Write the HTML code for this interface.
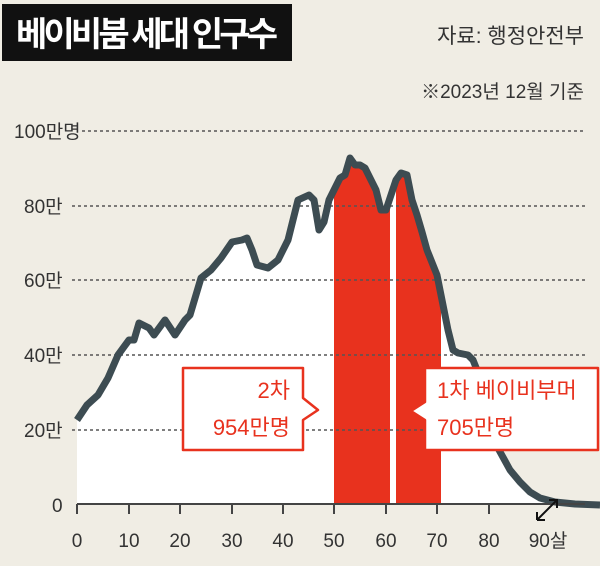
<!DOCTYPE html>
<html><head><meta charset="utf-8"><style>
body{margin:0;background:#f0ede4;}
svg text{font-family:"Liberation Sans","Noto Sans CJK KR",sans-serif;}
</style></head><body>
<svg width="600" height="561" viewBox="0 0 600 561" xmlns="http://www.w3.org/2000/svg">
<rect width="600" height="561" fill="#f0ede4"/>
<rect x="2" y="4" width="290" height="57" fill="#111"/>
<text x="16" y="46" font-size="34" fill="#fff" font-weight="bold" textLength="262">베이비붐 세대 인구수</text>
<text x="584" y="43" font-size="21" fill="#333" text-anchor="end">자료: 행정안전부</text>
<text x="584" y="98" font-size="19" fill="#333" text-anchor="end">※2023년 12월 기준</text>
<defs>
<clipPath id="c"><path id="cp" d="M77,420 L87,405 L98,395 L108,378 L118,355 L129,340 L134,340 L139,323 L149,328 L154,335 L165,320 L175,335 L185,320 L190,315 L201,278 L211,270 L221,258 L232,242 L242,240 L247,238 L252,250 L257,265 L268,268 L278,260 L288,240 L298,200 L309,195 L314,200 L319,230 L324,222 L329,200 L340,178 L345,175 L350,158 L355,165 L360,165 L365,168 L376,190 L381,210 L386,210 L391,195 L396,180 L401,173 L407,175 L412,200 L417,215 L422,232 L427,250 L437,275 L443,305 L448,330 L453,350 L458,353 L468,355 L473,360 L479,375 L489,420 L499,450 L510,470 L520,482 L530,492 L540,498 L555,502 L570,503 L570,504 L77,504 Z"/></clipPath>
</defs>
<path d="M77,420 L87,405 L98,395 L108,378 L118,355 L129,340 L134,340 L139,323 L149,328 L154,335 L165,320 L175,335 L185,320 L190,315 L201,278 L211,270 L221,258 L232,242 L242,240 L247,238 L252,250 L257,265 L268,268 L278,260 L288,240 L298,200 L309,195 L314,200 L319,230 L324,222 L329,200 L340,178 L345,175 L350,158 L355,165 L360,165 L365,168 L376,190 L381,210 L386,210 L391,195 L396,180 L401,173 L407,175 L412,200 L417,215 L422,232 L427,250 L437,275 L443,305 L448,330 L453,350 L458,353 L468,355 L473,360 L479,375 L489,420 L499,450 L510,470 L520,482 L530,492 L540,498 L555,502 L570,503 L570,504 L77,504 Z" fill="#fff"/>
<g clip-path="url(#c)" fill="#e8321e">
<rect x="334" y="100" width="56" height="404"/>
<rect x="396" y="100" width="45" height="404"/>
</g>
<g stroke="#555" stroke-width="1.5" stroke-dasharray="3,3">
<line x1="82" y1="131" x2="585" y2="131"/>
<line x1="72" y1="206" x2="585" y2="206"/>
<line x1="72" y1="280" x2="585" y2="280"/>
<line x1="72" y1="355" x2="585" y2="355"/>
<line x1="72" y1="430" x2="585" y2="430"/>
</g>
<path d="M77,420 L87,405 L98,395 L108,378 L118,355 L129,340 L134,340 L139,323 L149,328 L154,335 L165,320 L175,335 L185,320 L190,315 L201,278 L211,270 L221,258 L232,242 L242,240 L247,238 L252,250 L257,265 L268,268 L278,260 L288,240 L298,200 L309,195 L314,200 L319,230 L324,222 L329,200 L340,178 L345,175 L350,158 L355,165 L360,165 L365,168 L376,190 L381,210 L386,210 L391,195 L396,180 L401,173 L407,175 L412,200 L417,215 L422,232 L427,250 L437,275 L443,305 L448,330 L453,350 L458,353 L468,355 L473,360 L479,375 L489,420 L499,450 L510,470 L520,482 L530,492 L540,498 L555,502 L575,504 L600,505" fill="none" stroke="#3d4c52" stroke-width="7" stroke-linejoin="round"/>
<g font-size="19" fill="#333">
<text x="14" y="138">100만명</text>
<text x="24" y="213">80만</text>
<text x="24" y="287">60만</text>
<text x="24" y="362">40만</text>
<text x="24" y="437">20만</text>
<text x="52" y="512">0</text>
</g>
<line x1="77" y1="504" x2="585" y2="504" stroke="#444" stroke-width="2"/>
<g stroke="#444" stroke-width="2">
<line x1="77" y1="504" x2="77" y2="514"/><line x1="129" y1="504" x2="129" y2="514"/><line x1="180" y1="504" x2="180" y2="514"/><line x1="232" y1="504" x2="232" y2="514"/><line x1="283" y1="504" x2="283" y2="514"/><line x1="334" y1="504" x2="334" y2="514"/><line x1="386" y1="504" x2="386" y2="514"/><line x1="437" y1="504" x2="437" y2="514"/><line x1="489" y1="504" x2="489" y2="514"/>
</g>
<g font-size="19" fill="#333" text-anchor="middle">
<text x="77" y="547">0</text><text x="129" y="547">10</text><text x="180" y="547">20</text><text x="232" y="547">30</text><text x="283" y="547">40</text><text x="334" y="547">50</text><text x="386" y="547">60</text><text x="437" y="547">70</text><text x="489" y="547">80</text><text x="548" y="547">90살</text>
</g>
<path d="M183,368 L303,368 L303,398 L318,410 L303,420 L303,450 L183,450 Z" fill="#fff" stroke="#e8321e" stroke-width="2.5" stroke-linejoin="round"/>
<text x="290" y="398" font-size="22" fill="#e8321e" text-anchor="end">2차</text>
<text x="290" y="435" font-size="22" fill="#e8321e" text-anchor="end">954만명</text>
<path d="M425,368 L598,368 L598,450 L425,450 L425,420 L411,411 L425,402 Z" fill="#fff" stroke="#e8321e" stroke-width="2.5" stroke-linejoin="round"/>
<text x="437" y="398" font-size="22" fill="#e8321e">1차 베이비부머</text>
<text x="437" y="435" font-size="22" fill="#e8321e">705만명</text>
<path d="M537,520 L557,500 M549,500 L557,500 L557,508 M537,520 L537,512 M537,520 L545,520" stroke="#111" stroke-width="2" fill="none"/>
</svg>
</body></html>
